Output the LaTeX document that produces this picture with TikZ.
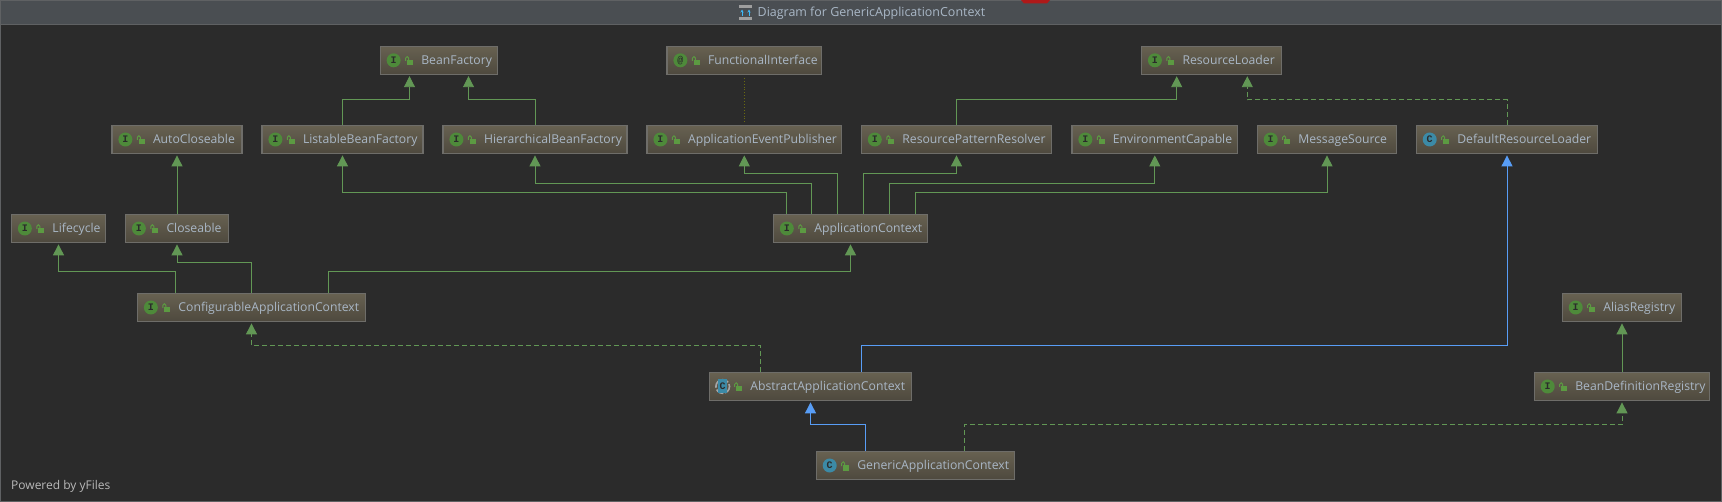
\documentclass[tikz,border=0pt]{standalone}
\usepackage{fontspec}
\setmainfont{Open Sans}
\newfontfamily\badgefont{Liberation Mono}
\usetikzlibrary{arrows.meta}
\definecolor{canvasbg}{HTML}{2B2B2B}
\definecolor{titlebg}{HTML}{4A4E52}
\definecolor{framecol}{HTML}{5F6163}
\definecolor{boxtop}{HTML}{676151}
\definecolor{boxbot}{HTML}{4E493E}
\definecolor{boxline}{HTML}{6E6D69}
\definecolor{labelcol}{HTML}{A9B7C6}
\definecolor{greenline}{HTML}{629755}
\definecolor{blueline}{HTML}{589DF6}
\definecolor{oliveline}{HTML}{6B6B10}
\definecolor{ifacecol}{HTML}{4E8A3A}
\definecolor{classcol}{HTML}{3C8AA6}
\definecolor{lockcol}{HTML}{5C9A42}
\tikzset{
	classbox/.style={draw=boxline,line width=1.2pt,top color=boxtop,bottom color=boxbot,
		minimum height=28pt,minimum width=#1pt,text width=#1pt,inner xsep=0pt,inner ysep=0pt,
		align=left,text=labelcol,font=\fontsize{12.2}{14}\selectfont,
		text height=11pt,text depth=2pt,execute at begin node=\hspace*{41pt}},
	badge/.style={circle,fill=#1,minimum size=14pt,inner sep=0pt,text=canvasbg,
		font=\fontsize{10}{10}\badgefont\bfseries},
	tip/.style={shorten >=1.3pt,-{Triangle[width=11pt,length=11pt]}},
	extendline/.style={tip,draw=greenline,fill=none,line width=0.9pt},
	implline/.style={extendline,dash pattern=on 5pt off 3pt},
	superline/.style={tip,draw=blueline,line width=0.9pt},
	annoline/.style={draw=oliveline,line width=0.9pt,dotted},
	pics/lock/.style={code={
		\fill[lockcol] (-2.5,-0.2) rectangle (3.2,5);
		\draw[lockcol,line width=1pt] (-1,0) -- (-1,-2.2) arc (0:-180:1.5) -- (-4,0.5);
	}}
}
% icon and lock at the left of a box
\newcommand{\markbox}[3]{
	\node[badge=#2] (#1mark) at ([xshift=14]#1.west) {#3};
	\pic at ([xshift=30]#1.west) {lock};
}
\begin{document}
\begin{tikzpicture}[x=1pt,y=-1pt]
	\useasboundingbox (0,0) rectangle (1722,502);
	\fill[canvasbg] (0,0) rectangle (1722,502);
	\fill[titlebg] (0,0) rectangle (1722,24);
	\draw[framecol] (0,24.3) -- (1722,24.3);
	\draw[framecol,line width=1.2pt] (0.6,0.6) rectangle (1721.4,501.4);
	\fill[red!65!black!90!white] (1021,0) -- (1050,0) -- (1047,3.5) -- (1024,3.5) -- cycle;
	% title
	\fill[gray!75] (738.5,5.5) rectangle (752,8.5);
	\fill[gray!75] (738.5,17) rectangle (752,20);
	\draw[blueline!70!cyan,line width=1pt,->,>={Stealth[length=3pt,width=3pt]}] (742,16) -- (742,9.5);
	\draw[blueline!70!cyan,line width=1pt,->,>={Stealth[length=3pt,width=3pt]}] (749,16) -- (749,9.5);
	\node[anchor=west,inner sep=0pt,text=labelcol,font=\fontsize{12.45}{14}\selectfont] (title) at (757.5,13.5) {Diagram for GenericApplicationContext};
	\node[anchor=west,inner sep=0pt,text=gray!55,font=\fontsize{12}{13}\selectfont] (powered) at (11,486.5) {Powered by yFiles};
	% boxes
	\node[classbox=117.5] (beanfactory) at (439,60.3) {BeanFactory};
	\node[classbox=154.6] (functional) at (744.3,60.3) {FunctionalInterface};
	\node[classbox=140.2] (resourceloader) at (1211.6,60.3) {ResourceLoader};
	\node[classbox=130] (autocloseable) at (177,139.5) {AutoCloseable};
	\node[classbox=161] (listable) at (342.5,139.5) {ListableBeanFactory};
	\node[classbox=184] (hierarchical) at (535,139.5) {HierarchicalBeanFactory};
	\node[classbox=194.5] (publisher) at (744.3,139.5) {ApplicationEventPublisher};
	\node[classbox=190.2] (patternresolver) at (956.5,139.5) {ResourcePatternResolver};
	\node[classbox=165.7] (environment) at (1154.8,139.5) {EnvironmentCapable};
	\node[classbox=139.4] (messagesource) at (1327,139.5) {MessageSource};
	\node[classbox=181.4] (defaultloader) at (1507,139.5) {DefaultResourceLoader};
	\node[classbox=94.1] (lifecycle) at (58.5,228.5) {Lifecycle};
	\node[classbox=103] (closeable) at (177,228.5) {Closeable};
	\node[classbox=154.2] (appcontext) at (850.5,228.5) {ApplicationContext};
	\node[classbox=228.1] (configurable) at (251.5,307.5) {ConfigurableApplicationContext};
	\node[classbox=119.4] (alias) at (1622,307.5) {AliasRegistry};
	\node[classbox=202.4] (abstract) at (810.5,386.5) {AbstractApplicationContext};
	\node[classbox=175.4] (definitionreg) at (1622,386.5) {BeanDefinitionRegistry};
	\node[classbox=198.4] (generic) at (915.5,465.5) {GenericApplicationContext};
	% icons
	\markbox{beanfactory}{ifacecol}{I}
	\markbox{functional}{ifacecol}{@}
	\markbox{resourceloader}{ifacecol}{I}
	\markbox{autocloseable}{ifacecol}{I}
	\markbox{listable}{ifacecol}{I}
	\markbox{hierarchical}{ifacecol}{I}
	\markbox{publisher}{ifacecol}{I}
	\markbox{patternresolver}{ifacecol}{I}
	\markbox{environment}{ifacecol}{I}
	\markbox{messagesource}{ifacecol}{I}
	\markbox{defaultloader}{classcol}{C}
	\markbox{lifecycle}{ifacecol}{I}
	\markbox{closeable}{ifacecol}{I}
	\markbox{appcontext}{ifacecol}{I}
	\markbox{configurable}{ifacecol}{I}
	\markbox{alias}{ifacecol}{I}
	\markbox{definitionreg}{ifacecol}{I}
	\markbox{generic}{classcol}{C}
	% abstract class has a ring round a narrow badge
	\draw[gray!70,line width=1.6pt,dash pattern=on 8pt off 2pt] ([xshift=14]abstract.west) circle (6.8);
	\node[badge=classcol,rectangle,minimum size=0pt,minimum width=9pt,minimum height=14pt] (abstractmark) at ([xshift=14]abstract.west) {C};
	\pic at ([xshift=30]abstract.west) {lock};
	% connectors
	\draw[extendline] (listable.north) -- ++(0,-25) -| ([xshift=-29.5]beanfactory.south);
	\draw[extendline] (hierarchical.north) -- ++(0,-25) -| ([xshift=29.5]beanfactory.south);
	\draw[annoline] ([yshift=-3]functional.south) -- ([yshift=2]publisher.north);
	\draw[extendline] (patternresolver.north) -- ++(0,-25) -| ([xshift=-34.9]resourceloader.south);
	\draw[implline] (defaultloader.north) -- ++(0,-25) -| ([xshift=35.7]resourceloader.south);
	\draw[extendline] (closeable.north) -- (autocloseable.south);
	\draw[extendline] ([xshift=-63.7]appcontext.north) -- ++(0,-21) -| (listable.south);
	\draw[extendline] ([xshift=-38.9]appcontext.north) -- ++(0,-30) -| (hierarchical.south);
	\draw[extendline] ([xshift=-12.8]appcontext.north) -- ++(0,-40) -| (publisher.south);
	\draw[extendline] ([xshift=12.8]appcontext.north) -- ++(0,-40) -| (patternresolver.south);
	\draw[extendline] ([xshift=38.8]appcontext.north) -- ++(0,-30) -| (environment.south);
	\draw[extendline] ([xshift=64.8]appcontext.north) -- ++(0,-21) -| (messagesource.south);
	\draw[extendline] ([xshift=-75.8]configurable.north) -- ++(0,-21) -| (lifecycle.south);
	\draw[extendline] (configurable.north) -- ++(0,-30) -| (closeable.south);
	\draw[extendline] ([xshift=77.2]configurable.north) -- ++(0,-21) -| (appcontext.south);
	\draw[implline] ([xshift=-49.8]abstract.north) -- ++(0,-26) -| (configurable.south);
	\draw[superline] ([xshift=50.8]abstract.north) -- ++(0,-26) -| (defaultloader.south);
	\draw[superline] ([xshift=-50.2]generic.north) -- ++(0,-26) -| (abstract.south);
	\draw[implline] ([xshift=48.8]generic.north) -- ++(0,-26) -| (definitionreg.south);
	\draw[extendline] (definitionreg.north) -- (alias.south);
\end{tikzpicture}
\end{document}
